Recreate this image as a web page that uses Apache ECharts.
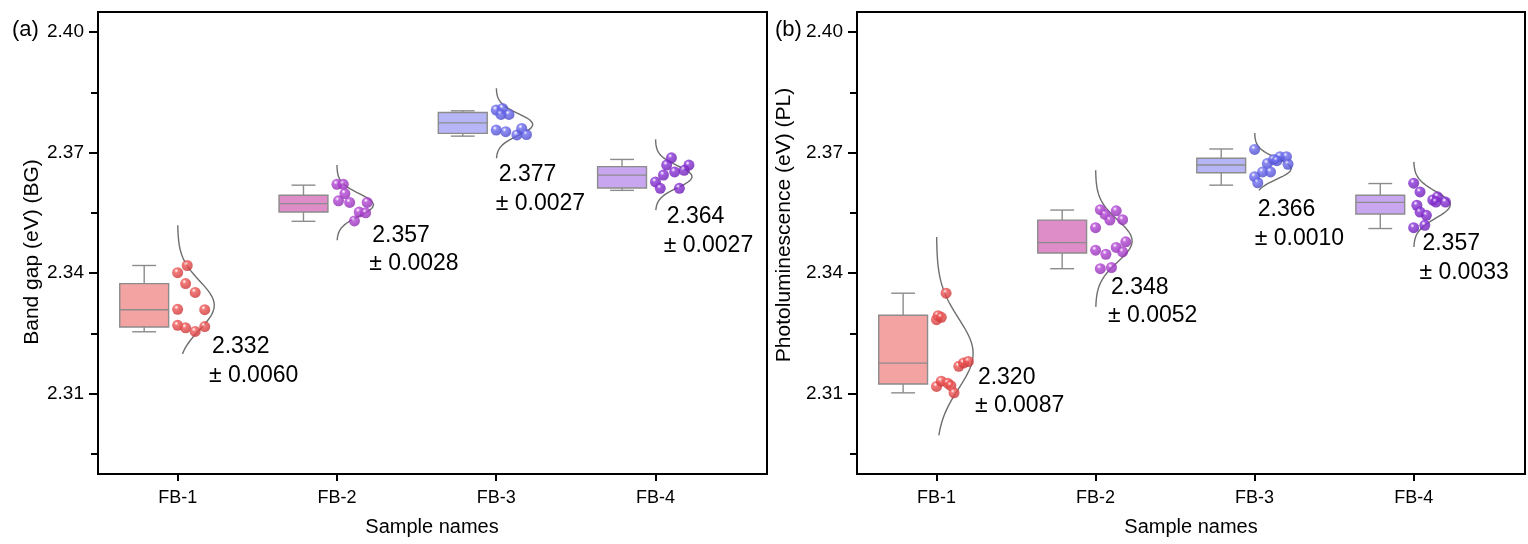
<!DOCTYPE html>
<html><head><meta charset="utf-8">
<script src="https://cdn.jsdelivr.net/npm/echarts@6/dist/echarts.min.js"></script>
<style>html,body{margin:0;padding:0;background:#fff}#c{width:1528px;height:544px}</style>
</head><body><div id="c"></div>
<script>
// ---------- data ----------
const categories = ['FB-1', 'FB-2', 'FB-3', 'FB-4'];
const yTicks = [2.31, 2.34, 2.37, 2.40];
const yMinorTicks = [2.295, 2.325, 2.355, 2.385];

// Band gap (BG)
const bgMean = [2.332, 2.357, 2.377, 2.364];
const bgSd = [0.0060, 0.0028, 0.0027, 0.0027];
// [lower whisker, Q1, median, Q3, upper whisker]
const bgBox = [
  [2.3254, 2.3266, 2.3309, 2.3374, 2.3419],
  [2.3529, 2.3552, 2.3573, 2.3594, 2.3619],
  [2.3741, 2.3748, 2.3774, 2.3800, 2.3804],
  [2.3606, 2.3612, 2.3644, 2.3665, 2.3683]
];
const bgFB1 = [2.3419, 2.3401, 2.3374, 2.3352, 2.3310, 2.3309, 2.3270, 2.3264, 2.3255, 2.3267];
const bgFB1Dx = [0.06, 0.00, 0.05, 0.11, 0.00, 0.17, 0.00, 0.05, 0.11, 0.17];
const bgFB2 = [2.3621, 2.3621, 2.3598, 2.3580, 2.3576, 2.3576, 2.3552, 2.3550, 2.3530];
const bgFB2Dx = [0.00, 0.04, 0.05, 0.01, 0.08, 0.19, 0.14, 0.18, 0.11];
const bgFB3 = [2.3806, 2.3810, 2.3795, 2.3795, 2.3756, 2.3752, 2.3744, 2.3760, 2.3745];
const bgFB3Dx = [0.00, 0.04, 0.03, 0.08, 0.00, 0.06, 0.13, 0.16, 0.19];
const bgFB4 = [2.3687, 2.3669, 2.3669, 2.3652, 2.3656, 2.3644, 2.3627, 2.3611, 2.3611];
const bgFB4Dx = [0.10, 0.07, 0.21, 0.12, 0.18, 0.05, 0.00, 0.03, 0.15];
const bgCurveRange = [[2.3199, 2.3519], [2.3482, 2.3669], [2.3686, 2.3860], [2.3557, 2.3733]];
const bgCurveSd = [0.0060, 0.0028, 0.0027, 0.0027];
const bgLabelDx = [0.215, 0.222, 0.016, 0.071];
const bgLabelY = [2.3216, 2.3494, 2.3644, 2.3540];

// Photoluminescence (PL)
const plMean = [2.320, 2.348, 2.366, 2.357];
const plSd = [0.0087, 0.0052, 0.0010, 0.0033];
const plBox = [
  [2.3102, 2.3124, 2.3176, 2.3295, 2.3350],
  [2.3411, 2.3450, 2.3476, 2.3532, 2.3557],
  [2.3619, 2.3650, 2.3669, 2.3686, 2.3709],
  [2.3511, 2.3547, 2.3576, 2.3594, 2.3623]
];
const plFB1 = [2.3350, 2.3284, 2.3294, 2.3290, 2.3168, 2.3176, 2.3180, 2.3118, 2.3131, 2.3126, 2.3120, 2.3102];
const plFB1Dx = [0.06, 0.00, 0.01, 0.03, 0.14, 0.17, 0.20, 0.00, 0.03, 0.07, 0.09, 0.11];
const plFB2 = [2.3558, 2.3546, 2.3555, 2.3532, 2.3533, 2.3513, 2.3478, 2.3464, 2.3457, 2.3447, 2.3453, 2.3411, 2.3414];
const plFB2Dx = [0.03, 0.06, 0.13, 0.09, 0.17, 0.00, 0.19, 0.13, 0.00, 0.065, 0.17, 0.03, 0.10];
const plFB3 = [2.3708, 2.3673, 2.3683, 2.3690, 2.3690, 2.3671, 2.3652, 2.3652, 2.3640, 2.3625, 2.3680];
const plFB3Dx = [0.00, 0.08, 0.12, 0.16, 0.20, 0.21, 0.05, 0.10, 0.00, 0.02, 0.14];
const plFB4 = [2.3624, 2.3602, 2.3569, 2.3582, 2.3590, 2.3577, 2.3552, 2.3544, 2.3513, 2.3519, 2.3577];
const plFB4Dx = [0.00, 0.04, 0.02, 0.12, 0.15, 0.20, 0.04, 0.08, 0.00, 0.07, 0.14];
const plCurveRange = [[2.2996, 2.3490], [2.3316, 2.3656], [2.3606, 2.3749], [2.3465, 2.3677]];
const plCurveSd = [0.0087, 0.0052, 0.0026, 0.0033];
const plLabelDx = [0.26, 0.097, 0.02, 0.055];
const plLabelY = [2.3141, 2.3365, 2.3557, 2.3473];

// ---------- styling ----------
const FONT = 'Liberation Sans, Arial, Helvetica, sans-serif';
const boxFill = ['#f4a3a3', '#de8dc8', '#b6b6f7', '#c8a6f0'];
const ballColor = ['#f05656', '#b446d6', '#6e6ef0', '#8a32d8'];
const ballDark = ['#c93434', '#8c2cae', '#4848c8', '#6a1cb0'];
const BOX_SHIFT = -0.21, BOX_W = 0.307, CAP_W = 0.15, AMP = 0.23;
const GREY = '#8c8c8c';

const panels = [
  {mean: bgMean, sd: bgSd, box: bgBox, pts: [bgFB1, bgFB2, bgFB3, bgFB4], dx: [bgFB1Dx, bgFB2Dx, bgFB3Dx, bgFB4Dx],
   range: bgCurveRange, csd: bgCurveSd, ldx: bgLabelDx, ly: bgLabelY, left: 98, width: 669},
  {mean: plMean, sd: plSd, box: plBox, pts: [plFB1, plFB2, plFB3, plFB4], dx: [plFB1Dx, plFB2Dx, plFB3Dx, plFB4Dx],
   range: plCurveRange, csd: plCurveSd, ldx: plLabelDx, ly: plLabelY, left: 857, width: 668}
];
const TOP = 12, HEIGHT = 462;

function renderBox(params, api) {
  const x = api.value(0) + BOX_SHIFT;
  const k = api.value(6);
  const w = api.size([BOX_W, 0])[0];
  const cap = api.size([CAP_W, 0])[0];
  const pLo = api.coord([x, api.value(1)]);
  const pQ1 = api.coord([x, api.value(2)]);
  const pMd = api.coord([x, api.value(3)]);
  const pQ3 = api.coord([x, api.value(4)]);
  const pHi = api.coord([x, api.value(5)]);
  const cx = pLo[0];
  const st = {stroke: GREY, lineWidth: 1.4};
  return {type: 'group', children: [
    {type: 'line', shape: {x1: cx, y1: pHi[1], x2: cx, y2: pQ3[1]}, style: st},
    {type: 'line', shape: {x1: cx, y1: pQ1[1], x2: cx, y2: pLo[1]}, style: st},
    {type: 'line', shape: {x1: cx - cap / 2, y1: pHi[1], x2: cx + cap / 2, y2: pHi[1]}, style: st},
    {type: 'line', shape: {x1: cx - cap / 2, y1: pLo[1], x2: cx + cap / 2, y2: pLo[1]}, style: st},
    {type: 'rect', shape: {x: cx - w / 2, y: pQ3[1], width: w, height: pQ1[1] - pQ3[1]},
     style: {fill: boxFill[k], stroke: GREY, lineWidth: 1.4}},
    {type: 'line', shape: {x1: cx - w / 2, y1: pMd[1], x2: cx + w / 2, y2: pMd[1]}, style: st}
  ]};
}

function makeLabelRender(panel) {
  return function (params, api) {
    const k = api.value(2);
    const p = api.coord([api.value(0), api.value(1)]);
    const ts = {fontSize: 23, fontFamily: FONT, fill: '#000', align: 'left', verticalAlign: 'middle'};
    return {type: 'group', children: [
      {type: 'text', x: p[0], y: p[1], style: Object.assign({text: panel.mean[k].toFixed(3)}, ts)},
      {type: 'text', x: p[0] - 3, y: p[1] + 28.5, style: Object.assign({text: '\u00b1 ' + panel.sd[k].toFixed(4)}, ts)}
    ]};
  };
}

const grid = [], xAxis = [], yAxis = [], series = [];
panels.forEach((P, i) => {
  grid.push({left: P.left, top: TOP, width: P.width, height: HEIGHT, show: true, borderColor: '#000', borderWidth: 2, backgroundColor: 'transparent'});
  xAxis.push({
    type: 'value', gridIndex: i, min: 0.5, max: 4.7,
    axisLine: {show: true, onZero: false, lineStyle: {color: '#000', width: 2}},
    axisTick: {show: true, customValues: [1, 2, 3, 4], length: 7, lineStyle: {color: '#000', width: 2}},
    axisLabel: {customValues: [1, 2, 3, 4], formatter: v => categories[Math.round(v) - 1], margin: 15,
                color: '#000', fontSize: 18, fontFamily: FONT},
    splitLine: {show: false}
  });
  yAxis.push({
    type: 'value', gridIndex: i, min: 2.29, max: 2.405,
    axisLine: {show: true, onZero: false, lineStyle: {color: '#000', width: 2}},
    axisTick: {show: true, customValues: yTicks, length: 9, lineStyle: {color: '#000', width: 2}},
    axisLabel: {customValues: yTicks, formatter: v => v.toFixed(2), margin: 14,
                color: '#000', fontSize: 19, fontFamily: FONT},
    splitLine: {show: false}
  });
  yAxis.push({
    type: 'value', gridIndex: i, min: 2.29, max: 2.405, position: 'left',
    axisLine: {show: false},
    axisTick: {show: true, customValues: yMinorTicks, length: 7, lineStyle: {color: '#000', width: 2}},
    axisLabel: {show: false}, splitLine: {show: false}
  });
  const yi = 2 * i;
  series.push({
    type: 'custom', xAxisIndex: i, yAxisIndex: yi, renderItem: renderBox, silent: true, z: 2,
    encode: {x: 0, y: [1, 2, 3, 4, 5]},
    data: categories.map((c, k) => [k + 1].concat(P.box[k]).concat([k]))
  });
  categories.forEach((c, k) => {
    const lo = P.range[k][0], hi = P.range[k][1];
    const curve = [];
    const N = 80;
    for (let j = 0; j <= N; j++) {
      const v = hi - (hi - lo) * j / N;
      const d = (v - P.mean[k]) / P.csd[k];
      curve.push([k + 1 + AMP * Math.exp(-0.5 * d * d), v]);
    }
    series.push({
      type: 'line', xAxisIndex: i, yAxisIndex: yi, data: curve, showSymbol: false, symbol: 'none',
      lineStyle: {color: '#6e6e6e', width: 1.4}, z: 3, silent: true
    });
    series.push({
      type: 'scatter', xAxisIndex: i, yAxisIndex: yi, symbolSize: 11, z: 4, silent: true,
      data: P.pts[k].map((v, j) => [k + 1 + P.dx[k][j], v]),
      itemStyle: {color: {type: 'radial', x: 0.38, y: 0.32, r: 0.7,
        colorStops: [{offset: 0, color: '#ffffff'}, {offset: 0.28, color: ballColor[k]}, {offset: 1, color: ballDark[k]}]}}
    });
  });
  series.push({
    type: 'custom', xAxisIndex: i, yAxisIndex: yi, renderItem: makeLabelRender(P), silent: true, z: 5,
    encode: {x: 0, y: 1},
    data: categories.map((c, k) => [k + 1 + P.ldx[k], P.ly[k], k])
  });
});

const option = {
  animation: false,
  backgroundColor: '#fff',
  grid, xAxis, yAxis, series,
  graphic: [
    {type: 'text', left: 12, top: 19, style: {text: '(a)', fontSize: 22, fontFamily: FONT, fill: '#000'}},
    {type: 'text', left: 775, top: 19, style: {text: '(b)', fontSize: 22, fontFamily: FONT, fill: '#000'}},
    {type: 'text', x: 32, y: 252, rotation: Math.PI / 2,
     style: {text: 'Band gap (eV) (BG)', fontSize: 21, fontFamily: FONT, fill: '#000', align: 'center', verticalAlign: 'middle'}},
    {type: 'text', x: 784, y: 225, rotation: Math.PI / 2,
     style: {text: 'Photoluminescence (eV) (PL)', fontSize: 21, fontFamily: FONT, fill: '#000', align: 'center', verticalAlign: 'middle'}},
    {type: 'text', x: 432, y: 527,
     style: {text: 'Sample names', fontSize: 20, fontFamily: FONT, fill: '#000', align: 'center', verticalAlign: 'middle'}},
    {type: 'text', x: 1191, y: 527,
     style: {text: 'Sample names', fontSize: 20, fontFamily: FONT, fill: '#000', align: 'center', verticalAlign: 'middle'}}
  ]
};
const chart = echarts.init(document.getElementById('c'), null, {renderer: 'canvas'});
chart.setOption(option);
</script>
</body></html>
